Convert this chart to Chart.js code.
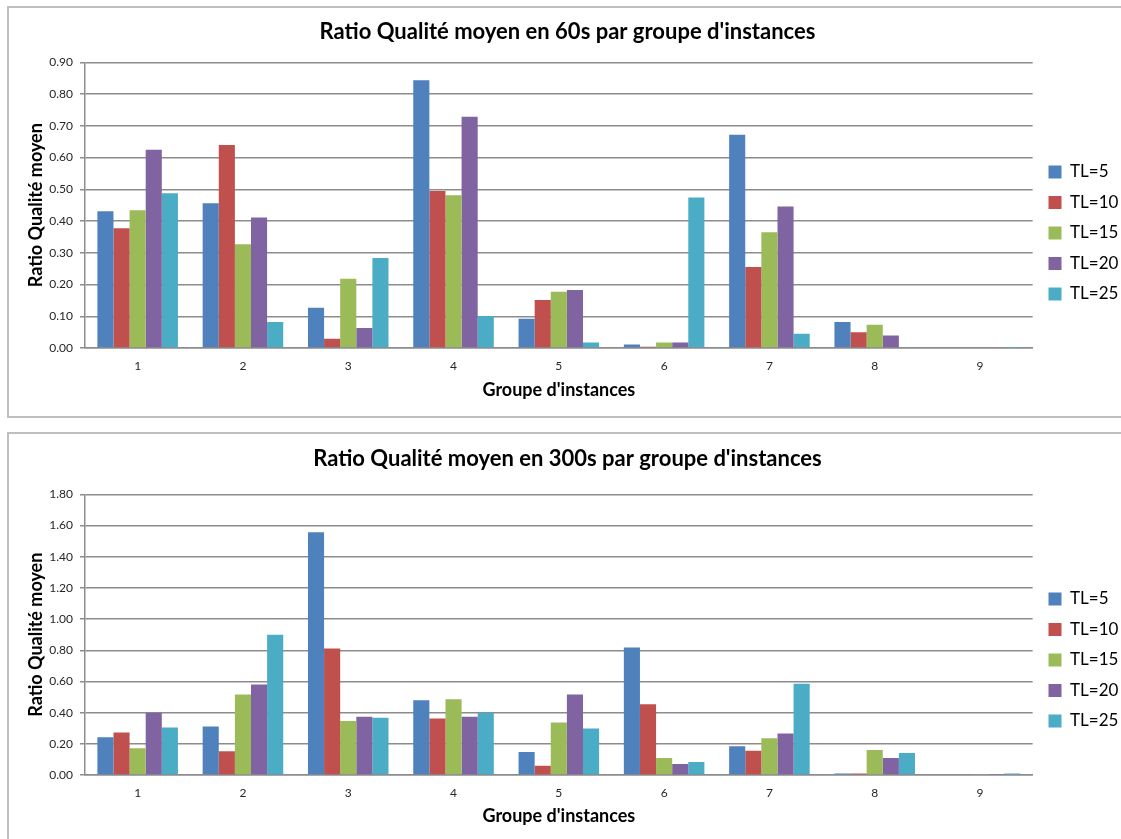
<!DOCTYPE html>
<html>
<head>
<meta charset="utf-8">
<script src="https://cdn.jsdelivr.net/npm/chart.js@4.4.0/dist/chart.umd.min.js"></script>
<style>
  body { margin: 0; background: #fff; overflow: hidden; width: 1121px; height: 839px; position: relative; }
  .boite { position: absolute; left: 7px; width: 1130px; height: 408px; border: 2px solid #bfbfbf; border-right: none; }
  #boite60 { top: 6px; }
  #boite300 { top: 432px; }
  .boite canvas { position: absolute; left: 0; top: 0; }
</style>
</head>
<body>
<div class="boite" id="boite60"><canvas id="graphe60" width="1112" height="406"></canvas></div>
<div class="boite" id="boite300"><canvas id="graphe300" width="1112" height="406"></canvas></div>

<script>
// groupes d'instances
var groupes = ['1', '2', '3', '4', '5', '6', '7', '8', '9'];
var seriesNoms = ['TL=5', 'TL=10', 'TL=15', 'TL=20', 'TL=25'];
var couleurs = ['#4F81BD', '#C0504D', '#9BBB59', '#8064A2', '#4BACC6'];

// 60s
var tl5_60 = [0.431, 0.456, 0.127, 0.844, 0.092, 0.011, 0.672, 0.082, 0.002];
var tl10_60 = [0.377, 0.640, 0.029, 0.495, 0.151, 0.004, 0.255, 0.050, 0.002];
var tl15_60 = [0.434, 0.327, 0.218, 0.481, 0.177, 0.017, 0.365, 0.073, 0.002];
var tl20_60 = [0.625, 0.411, 0.063, 0.729, 0.183, 0.017, 0.446, 0.039, 0.002];
var tl25_60 = [0.488, 0.082, 0.284, 0.101, 0.017, 0.474, 0.045, 0.002, 0.001];

// 300s
var tl5_300 = [0.242, 0.311, 1.558, 0.479, 0.147, 0.818, 0.185, 0.010, 0.000];
var tl10_300 = [0.273, 0.153, 0.812, 0.362, 0.059, 0.454, 0.156, 0.010, 0.000];
var tl15_300 = [0.172, 0.517, 0.347, 0.486, 0.336, 0.109, 0.235, 0.160, 0.003];
var tl20_300 = [0.400, 0.580, 0.374, 0.374, 0.517, 0.071, 0.267, 0.109, 0.003];
var tl25_300 = [0.305, 0.900, 0.368, 0.400, 0.299, 0.084, 0.585, 0.141, 0.010];

var police = "Lato, 'Open Sans', sans-serif";
Chart.defaults.font.family = police;
Chart.defaults.color = '#262626';

// deplace la legende a droite, a une position fixe
var decalageLegende = {
    id: 'decalageLegende',
    afterUpdate: function (chart) {
        var lg = chart.legend;
        var opt = chart.options.plugins.decalageLegende;
        var h = lg.bottom - lg.top;
        lg.left = opt.x;
        lg.right = opt.x + lg.width;
        lg.top = opt.y;
        lg.bottom = opt.y + h;
        lg.adjustHitBoxes();
    }
};

function creerGraphe(id, titre, series, maxY, pasY, reglages) {
    var datasets = [];
    for (var i = 0; i < series.length; i++) {
        datasets.push({
            label: seriesNoms[i],
            data: series[i],
            backgroundColor: couleurs[i],
            borderWidth: 0,
            categoryPercentage: 0.765,
            barPercentage: 1.0
        });
    }

    return new Chart(document.getElementById(id), {
        type: 'bar',
        data: { labels: groupes, datasets: datasets },
        plugins: [decalageLegende],
        options: {
            responsive: false,
            animation: false,
            layout: { padding: { left: 0, right: reglages.padDroite, top: 0, bottom: 0 } },
            plugins: {
                title: {
                    display: true,
                    text: titre,
                    color: '#000',
                    font: { family: police, size: 22, weight: 'bold' },
                    padding: { top: reglages.titreHaut, bottom: reglages.titreBas }
                },
                legend: {
                    position: 'right',
                    align: 'start',
                    labels: {
                        boxWidth: 13,
                        boxHeight: 13,
                        padding: 13.5,
                        color: '#000',
                        font: { family: police, size: 17 }
                    }
                },
                decalageLegende: { x: reglages.legendeX, y: reglages.legendeY },
                tooltip: { enabled: false }
            },
            scales: {
                x: {
                    grid: { display: false, drawTicks: false },
                    border: { display: true, color: '#8c8c8c', width: 1.5 },
                    ticks: { font: { size: 12 }, color: '#262626', padding: 11 },
                    title: {
                        display: true,
                        text: "Groupe d'instances",
                        color: '#000',
                        font: { size: 18, weight: 'bold' },
                        padding: { top: 0, bottom: reglages.titreXBas }
                    },
                    afterFit: function (axe) { axe.height = reglages.hauteurX; }
                },
                y: {
                    min: 0,
                    max: maxY,
                    ticks: {
                        stepSize: pasY,
                        font: { size: 12 },
                        color: '#262626',
                        padding: 7,
                        callback: function (v) { return Number(v).toFixed(2); }
                    },
                    grid: { color: '#8c8c8c', lineWidth: 1.5, tickLength: 5 },
                    border: { display: true, color: '#8c8c8c', width: 1.5 },
                    title: {
                        display: true,
                        text: 'Ratio Qualité moyen',
                        color: '#000',
                        font: { size: 18, weight: 'bold' },
                        padding: { top: 16, bottom: 0 }
                    },
                    afterFit: function (axe) { axe.width = 76; }
                }
            }
        }
    });
}

creerGraphe('graphe60', "Ratio Qualité moyen en 60s par groupe d'instances",
    [tl5_60, tl10_60, tl15_60, tl20_60, tl25_60], 0.9, 0.1,
    { titreHaut: 11, titreBas: 17, hauteurX: 66, titreXBas: 13, padDroite: -5, legendeX: 1026, legendeY: 142 });

creerGraphe('graphe300', "Ratio Qualité moyen en 300s par groupe d'instances",
    [tl5_300, tl10_300, tl15_300, tl20_300, tl25_300], 1.8, 0.2,
    { titreHaut: 12, titreBas: 22, hauteurX: 65, titreXBas: 13, padDroite: -5, legendeX: 1026, legendeY: 143 });
</script>
</body>
</html>
